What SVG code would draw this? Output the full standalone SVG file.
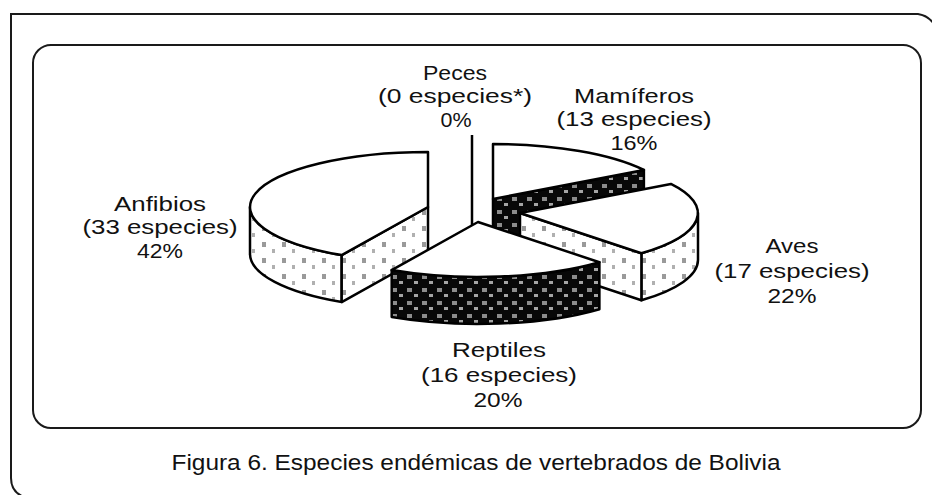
<svg xmlns="http://www.w3.org/2000/svg" width="932" height="495" viewBox="0 0 932 495">
<defs>
<pattern id="lt" width="20" height="16" patternUnits="userSpaceOnUse">
<rect width="20" height="16" fill="#fff"/>
<rect x="2" y="2" width="4" height="5" fill="#9a9a9a"/>
<rect x="12" y="9" width="3" height="4" fill="#b0b0b0"/>
</pattern>
<pattern id="dk" width="15" height="13" patternUnits="userSpaceOnUse">
<rect width="15" height="13" fill="#080808"/>
<rect x="2" y="2" width="5" height="4" fill="#8c8c8c"/>
<rect x="9" y="8" width="4" height="3" fill="#a5a5a5"/>
</pattern>
</defs>
<style>
.frame{fill:none;stroke:#1a1a1a;stroke-width:2}
.s{stroke:#000;stroke-width:2.5;stroke-linejoin:round}
.top{fill:#fff}
.light{fill:url(#lt)}
.dark{fill:url(#dk)}
text{font-family:"Liberation Sans",Arial,sans-serif;font-size:21px;fill:#111;text-anchor:middle}
.cap{font-size:22.5px}
</style>
<rect width="932" height="495" fill="#fff"/>
<path class="frame" d="M24,497 Q11,492 11,478 L11,14 L918,14 Q932,16 938,32"/>
<rect class="frame" x="33" y="45" width="888" height="383" rx="18" ry="18"/>

<g id="mamiferos">
<path class="s dark" d="M493,199 L643.9,169.9 L643.9,216.9 L493,246 Z"/>
<path class="s top" d="M493,199 L493,144 A178 55 0 0 1 643.9,169.9 Z"/>
</g>
<g id="peces">
<line class="s" x1="472" y1="135" x2="472" y2="235"/>
</g>
<g id="anfibios">
<path class="s light" d="M250,207 A178 55 0 0 0 341.7,255.1 L341.7,302.1 A178 55 0 0 1 250,254 Z"/>
<path class="s light" d="M428,207 L341.7,255.1 L341.7,302.1 L428,254 Z"/>
<path class="s top" d="M428,207 L428,152 A178 55 0 0 0 341.7,255.1 Z"/>
</g>
<g id="aves">
<path class="s light" d="M698,213 A178 55 0 0 1 641.4,253.2 L641.4,300.2 A178 55 0 0 0 698,260 Z"/>
<path class="s light" d="M520,213 L641.4,253.2 L641.4,300.2 L520,260 Z"/>
<path class="s top" d="M520,213 L670.9,183.9 A178 55 0 0 1 641.4,253.2 Z"/>
</g>
<g id="reptiles">
<path class="s dark" d="M391.7,270.1 A178 55 0 0 0 599.4,262.2 L599.4,309.2 A178 55 0 0 1 391.7,317.1 Z"/>
<path class="s top" d="M478,222 L391.7,270.1 A178 55 0 0 0 599.4,262.2 Z"/>
</g>

<g id="label-peces">
<text x="455" y="79.5" textLength="64" lengthAdjust="spacingAndGlyphs">Peces</text>
<text x="455" y="103" textLength="154" lengthAdjust="spacingAndGlyphs">(0 especies*)</text>
<text x="456" y="126.5" textLength="31" lengthAdjust="spacingAndGlyphs">0%</text>
</g>
<g id="label-mamiferos">
<text x="634" y="102.5" textLength="120" lengthAdjust="spacingAndGlyphs">Mamíferos</text>
<text x="634" y="126" textLength="155" lengthAdjust="spacingAndGlyphs">(13 especies)</text>
<text x="634" y="149.5" textLength="47" lengthAdjust="spacingAndGlyphs">16%</text>
</g>
<g id="label-anfibios">
<text x="160" y="210.5" textLength="92" lengthAdjust="spacingAndGlyphs">Anfibios</text>
<text x="160" y="234" textLength="155" lengthAdjust="spacingAndGlyphs">(33 especies)</text>
<text x="160" y="257.5" textLength="46" lengthAdjust="spacingAndGlyphs">42%</text>
</g>
<g id="label-aves">
<text x="792" y="253" textLength="53" lengthAdjust="spacingAndGlyphs">Aves</text>
<text x="792" y="278" textLength="155" lengthAdjust="spacingAndGlyphs">(17 especies)</text>
<text x="792" y="303" textLength="49" lengthAdjust="spacingAndGlyphs">22%</text>
</g>
<g id="label-reptiles">
<text x="499" y="357" textLength="94" lengthAdjust="spacingAndGlyphs">Reptiles</text>
<text x="499" y="382" textLength="156" lengthAdjust="spacingAndGlyphs">(16 especies)</text>
<text x="498" y="407" textLength="49" lengthAdjust="spacingAndGlyphs">20%</text>
</g>
<text class="cap" x="476" y="470" textLength="609" lengthAdjust="spacingAndGlyphs">Figura 6. Especies endémicas de vertebrados de Bolivia</text>
</svg>
